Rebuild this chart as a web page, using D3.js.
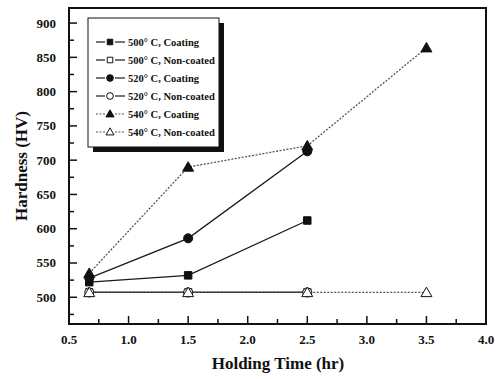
<!DOCTYPE html>
<html>
<head>
<meta charset="utf-8">
<script src="https://cdn.jsdelivr.net/npm/d3@7"></script>
<style>
  body { margin: 0; background: #fff; }
  text { font-family: "Liberation Serif", "Times New Roman", serif; font-weight: bold; fill: #111; }
</style>
</head>
<body>
<div id="chart"></div>
<script>
// data
const seriesNames = ["500° C, Coating", "500° C, Non-coated", "520° C, Coating", "520° C, Non-coated", "540° C, Coating", "540° C, Non-coated"];
const timesShort = [0.67, 1.5, 2.5];
const timesLong = [0.67, 1.5, 2.5, 3.5];
const hv500Coat = [522, 532, 612];
const hv500Non = [507, 507, 507];
const hv520Coat = [528, 586, 713];
const hv520Non = [507, 507, 507];
const hv540Coat = [535, 690, 721, 864];
const hv540Non = [507, 507, 507, 507];
const xTicks = [0.5, 1.0, 1.5, 2.0, 2.5, 3.0, 3.5, 4.0];
const yTicks = [500, 550, 600, 650, 700, 750, 800, 850, 900];

const series = [
  { name: seriesNames[0], x: timesShort, y: hv500Coat, shape: "square", filled: true, dash: null, color: "#1a1a1a" },
  { name: seriesNames[1], x: timesShort, y: hv500Non, shape: "square", filled: false, dash: null, color: "#1a1a1a" },
  { name: seriesNames[2], x: timesShort, y: hv520Coat, shape: "circle", filled: true, dash: null, color: "#1a1a1a" },
  { name: seriesNames[3], x: timesShort, y: hv520Non, shape: "circle", filled: false, dash: null, color: "#1a1a1a" },
  { name: seriesNames[4], x: timesLong, y: hv540Coat, shape: "triangle", filled: true, dash: "2,1.5", color: "#555" },
  { name: seriesNames[5], x: timesLong, y: hv540Non, shape: "triangle", filled: false, dash: "2,1.5", color: "#555" }
];

const width = 496, height = 379;
const plot = { left: 69, right: 486, top: 8, bottom: 324 };

const svg = d3.select("#chart").append("svg")
  .attr("width", width)
  .attr("height", height);

const x = d3.scaleLinear().domain([0.5, 4.0]).range([plot.left, plot.right]);
const y = d3.scaleLinear().domain([461, 922]).range([plot.bottom, plot.top]);

// frame
svg.append("rect")
  .attr("x", plot.left).attr("y", plot.top)
  .attr("width", plot.right - plot.left).attr("height", plot.bottom - plot.top)
  .attr("fill", "none").attr("stroke", "#111").attr("stroke-width", 2);

// x ticks (inward) with minor ticks
const xMinor = d3.range(0.75, 4.0, 0.5);
svg.append("g").selectAll("line").data(xTicks.slice(1, -1)).join("line")
  .attr("x1", d => x(d)).attr("x2", d => x(d))
  .attr("y1", plot.bottom).attr("y2", plot.bottom - 8)
  .attr("stroke", "#111").attr("stroke-width", 1.5);
svg.append("g").selectAll("line").data(xMinor).join("line")
  .attr("x1", d => x(d)).attr("x2", d => x(d))
  .attr("y1", plot.bottom).attr("y2", plot.bottom - 5)
  .attr("stroke", "#111").attr("stroke-width", 1.5);
svg.append("g").selectAll("text").data(xTicks).join("text")
  .attr("x", d => x(d)).attr("y", plot.bottom + 20)
  .attr("text-anchor", "middle")
  .style("font-size", "13px")
  .text(d => d.toFixed(1));

// y ticks (inward) with minor ticks
const yMinor = d3.range(475, 925, 50);
svg.append("g").selectAll("line").data(yTicks).join("line")
  .attr("x1", plot.left).attr("x2", plot.left + 8)
  .attr("y1", d => y(d)).attr("y2", d => y(d))
  .attr("stroke", "#111").attr("stroke-width", 1.5);
svg.append("g").selectAll("line").data(yMinor).join("line")
  .attr("x1", plot.left).attr("x2", plot.left + 5)
  .attr("y1", d => y(d)).attr("y2", d => y(d))
  .attr("stroke", "#111").attr("stroke-width", 1.5);
svg.append("g").selectAll("text").data(yTicks).join("text")
  .attr("x", plot.left - 13).attr("y", d => y(d) + 4.5)
  .attr("text-anchor", "end")
  .style("font-size", "13px")
  .text(d => d);

// axis titles
svg.append("text")
  .attr("x", 278).attr("y", 369)
  .attr("text-anchor", "middle")
  .style("font-size", "17px")
  .text("Holding Time (hr)");
svg.append("text")
  .attr("transform", `translate(27,${(plot.top + plot.bottom) / 2}) rotate(-90)`)
  .attr("text-anchor", "middle")
  .style("font-size", "17px")
  .text("Hardness (HV)");

const symbolType = { square: d3.symbolSquare, circle: d3.symbolCircle, triangle: d3.symbolTriangle };
const symbolSize = { square: 56, circle: 64, triangle: 52 };

function drawMarker(g, s, cx, cy, k = 1) {
  g.append("path")
    .attr("d", d3.symbol().type(symbolType[s.shape]).size(symbolSize[s.shape] * k)())
    .attr("transform", `translate(${cx},${cy + (s.shape === "triangle" ? k : 0)})`)
    .attr("fill", s.filled ? "#111" : "#fff")
    .attr("stroke", "#111")
    .attr("stroke-width", 1);
}

const line = d3.line().x(d => x(d[0])).y(d => y(d[1]));

// draw non-coated first so filled markers sit on top
const order = [1, 3, 5, 0, 2, 4];
order.forEach(i => {
  const s = series[i];
  const pts = s.x.map((t, j) => [t, s.y[j]]);
  svg.append("path")
    .attr("d", line(pts))
    .attr("fill", "none")
    .attr("stroke", s.color)
    .attr("stroke-width", 1.3)
    .attr("stroke-dasharray", s.dash);
});
order.forEach(i => {
  const s = series[i];
  const g = svg.append("g");
  s.x.forEach((t, j) => drawMarker(g, s, x(t), y(s.y[j])));
});

// legend
const lx = 88, ly = 18, lw = 131, lh = 129;
svg.append("rect")
  .attr("x", lx + 5).attr("y", ly + 5).attr("width", lw).attr("height", lh)
  .attr("fill", "#111");
svg.append("rect")
  .attr("x", lx).attr("y", ly).attr("width", lw).attr("height", lh)
  .attr("fill", "#fff").attr("stroke", "#111").attr("stroke-width", 1);

series.forEach((s, i) => {
  const ry = ly + 24 + i * 18;
  const g = svg.append("g");
  [[lx + 8, lx + 17], [lx + 27, lx + 37]].forEach(([a, b]) => {
    g.append("line")
      .attr("x1", a).attr("x2", b)
      .attr("y1", ry).attr("y2", ry)
      .attr("stroke", s.color).attr("stroke-width", 1.2)
      .attr("stroke-dasharray", s.dash);
  });
  drawMarker(g, s, lx + 22, ry, 0.55);
  g.append("text")
    .attr("x", lx + 40).attr("y", ry + 4)
    .style("font-size", "10.5px")
    .text(s.name);
});
</script>
</body>
</html>
